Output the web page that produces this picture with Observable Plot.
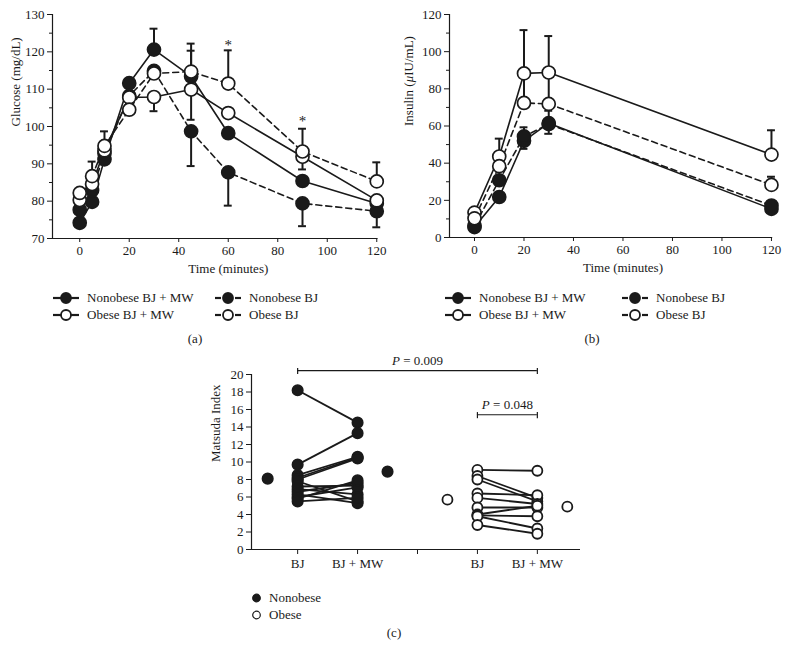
<!DOCTYPE html>
<html>
<head>
<meta charset="utf-8">
<script src="https://cdn.jsdelivr.net/npm/d3@7"></script>
<script src="https://cdn.jsdelivr.net/npm/@observablehq/plot@0.6"></script>
<style>
  body { margin: 0; background: #fff; }
  #root { position: relative; width: 788px; height: 664px; overflow: hidden;
          font-family: "Liberation Serif", "DejaVu Serif", serif; color: #1a1a1a; background: #fff; }
  #root svg { position: absolute; overflow: visible; }
  .lg { position: absolute; display: flex; align-items: center; font-size: 13px; white-space: nowrap; line-height: 14px; }
  .lg svg { position: static !important; margin-right: 8px; }
  .cap { position: absolute; font-size: 13px; transform: translate(-50%, -50%); }
</style>
</head>
<body>
<div id="root"></div>
<script>
// ---------------- DATA ----------------
const seriesNames = ["Nonobese BJ + MW", "Nonobese BJ", "Obese BJ + MW", "Obese BJ"];

// (a) Glucose
const timesA = [0, 5, 10, 20, 30, 45, 60, 90, 120];
const glucoseNonobeseBJMW = [74.2, 79.8, 91.2, 111.6, 120.6, 113.4, 98.2, 85.4, 79.4];
const glucoseNonobeseBJ   = [77.7, 82.9, 92.8, 108.2, 114.9, 98.7, 87.7, 79.4, 77.3];
const glucoseObeseBJMW    = [80.3, 84.6, 93.6, 107.8, 107.9, 109.9, 103.6, 91.9, 80.2];
const glucoseObeseBJ      = [82.2, 86.7, 94.8, 104.5, 114.2, 114.7, 111.5, 93.3, 85.3];
const glucoseErrSeries = [3, 3, 0, 2, 3, 0, 2, 1, 3, 1, 3, 2, 1, 3, 1];
const glucoseErrTime   = [5, 10, 30, 30, 45, 45, 45, 45, 60, 60, 90, 90, 90, 120, 120];
const glucoseErrEnd    = [90.6, 98.7, 126.2, 104.1, 122.2, 120.3, 101.8, 89.4, 120.4, 78.8, 99.4, 88.5, 73.3, 90.4, 73.0];
const glucoseStarTime  = [60, 90];
const glucoseStarValue = [121.7, 101.3];
const glucoseTicks = [70, 80, 90, 100, 110, 120, 130];
const glucoseMinor = [75, 85, 95, 105, 115, 125];

// (b) Insulin
const timesB = [0, 10, 20, 30, 120];
const insulinNonobeseBJMW = [5.6, 21.8, 52.0, 61.5, 15.4];
const insulinNonobeseBJ   = [6.3, 30.8, 54.4, 61.0, 17.2];
const insulinObeseBJMW    = [13.4, 43.6, 88.3, 88.8, 44.6];
const insulinObeseBJ      = [10.3, 38.4, 72.4, 71.9, 28.3];
const insulinErrSeries = [2, 2, 2, 2, 3, 3, 3, 1, 0, 1, 0];
const insulinErrTime   = [10, 20, 30, 120, 20, 30, 120, 20, 20, 30, 30];
const insulinErrEnd    = [53.2, 111.6, 108.4, 57.7, 86.7, 86.5, 32.7, 59.3, 47.7, 68.2, 55.8];
const insulinTicks = [0, 20, 40, 60, 80, 100, 120];
const insulinMinor = [10, 30, 50, 70, 90, 110];
const timeTicks = [0, 20, 40, 60, 80, 100, 120];

// (c) Matsuda index
const matsudaGroups = ["Nonobese", "Obese"];
const nonobeseBJ   = [18.2, 9.7, 8.5, 8.2, 8.0, 7.8, 7.2, 6.9, 6.6, 6.3, 6.0, 5.8, 5.5];
const nonobeseBJMW = [14.5, 13.3, 10.6, 10.5, 10.4, 5.5, 7.3, 6.3, 7.6, 5.3, 7.1, 7.9, 5.9];
const obeseBJ   = [9.1, 8.4, 8.0, 6.4, 5.9, 4.8, 4.0, 3.9, 3.8, 2.8];
const obeseBJMW = [9.0, 5.9, 5.5, 6.2, 5.2, 4.8, 5.0, 3.8, 2.4, 1.8];
const meanNonobese = [8.1, 8.9];   // BJ, BJ + MW
const meanObese    = [5.7, 4.9];   // BJ, BJ + MW
const matsudaTickLabels = ["BJ", "BJ + MW", "", "BJ", "BJ + MW"];
const matsudaTicks = [0, 2, 4, 6, 8, 10, 12, 14, 16, 18, 20];
const pLabels = ["P = 0.009", "P = 0.048"];
const pFrom = ["Nonobese BJ", "Obese BJ"];
const pTo   = ["Obese BJ + MW", "Obese BJ + MW"];
const pLevel = [20.45, 15.4];

// ---------------- STYLE / LAYOUT ----------------
const ink = "#1a1a1a";
const font = "Liberation Serif, DejaVu Serif, serif";
const seriesStyle = [
  {fill: ink, dash: undefined},
  {fill: ink, dash: "6,4"},
  {fill: "#fff", dash: undefined},
  {fill: "#fff", dash: "6,4"}
];
const root = document.getElementById("root");

function italicize(svg, pattern) {
  d3.select(svg).selectAll("text").each(function() {
    const t = this.textContent;
    const i = t.indexOf(pattern);
    if (i < 0 || this.childElementCount) return;
    const sel = d3.select(this);
    this.textContent = "";
    if (i > 0) sel.append("tspan").text(t.slice(0, i));
    sel.append("tspan").attr("font-style", "italic").text(pattern);
    sel.append("tspan").text(t.slice(i + pattern.length));
  });
}

function timeCourse(o) {
  const rows = o.values.map((vals, s) => vals.map((v, i) => ({s, t: o.times[i], v})));
  const errs = o.errSeries.map((s, i) => ({
    s, t: o.errTime[i], e: o.errEnd[i],
    v: o.values[s][o.times.indexOf(o.errTime[i])]
  }));
  const capHalf = 1.6;
  const svg = Plot.plot({
    width: o.width, height: o.height,
    marginLeft: o.margin[3], marginRight: o.margin[1], marginTop: o.margin[0], marginBottom: o.margin[2],
    style: {fontFamily: font, color: ink, background: "transparent", overflow: "visible"},
    x: {domain: o.xDomain},
    y: {domain: o.yDomain},
    marks: [
      Plot.ruleY([o.yDomain[0]], {stroke: ink, strokeWidth: 1.2}),
      Plot.ruleX([o.xDomain[0]], {stroke: ink, strokeWidth: 1.2}),
      Plot.axisY({ticks: o.yMajor, tickSize: 5, tickPadding: 3, fontSize: 13, label: null}),
      Plot.axisY({ticks: o.yMinor, tickSize: 3, tickFormat: () => "", label: null}),
      Plot.axisX({ticks: timeTicks, tickSize: 4, tickPadding: 3, fontSize: 13, label: null}),
      Plot.ruleX(errs, {x: "t", y1: "v", y2: "e", stroke: ink, strokeWidth: 2}),
      Plot.ruleY(errs, {y: "e", x1: d => d.t - capHalf, x2: d => d.t + capHalf, stroke: ink, strokeWidth: 2}),
      ...rows.map((r, s) => Plot.line(r, {x: "t", y: "v", stroke: ink, strokeWidth: 1.6, strokeDasharray: seriesStyle[s].dash})),
      ...rows.map((r, s) => Plot.dot(r, {x: "t", y: "v", r: 6.5, fill: seriesStyle[s].fill, stroke: ink, strokeWidth: 1.7})),
      Plot.text(o.stars, {x: "t", y: "v", text: () => "*", fontSize: 15, fill: ink}),
      Plot.text([o.ylabel], {frameAnchor: "left", rotate: -90, dx: o.ylabelDx, fontSize: 13, fill: ink}),
      Plot.text(["Time (minutes)"], {x: (o.times[0] + o.times[o.times.length - 1]) / 2, frameAnchor: "bottom", dy: 34, fontSize: 13, fill: ink})
    ]
  });
  svg.style.left = o.left + "px";
  svg.style.top = o.top + "px";
  root.appendChild(svg);
  return svg;
}

function legend(lefts, rowYs) {
  seriesNames.forEach((name, s) => {
    const col = s % 2, row = Math.floor(s / 2);
    const div = document.createElement("div");
    div.className = "lg";
    div.style.left = lefts[col] + "px";
    div.style.top = (rowYs[row] - 7) + "px";
    const sv = d3.create("svg").attr("width", 26).attr("height", 14);
    if (seriesStyle[s].dash) {
      sv.append("line").attr("x1", 0).attr("x2", 6).attr("y1", 7).attr("y2", 7).attr("stroke", ink).attr("stroke-width", 2.2);
      sv.append("line").attr("x1", 20).attr("x2", 26).attr("y1", 7).attr("y2", 7).attr("stroke", ink).attr("stroke-width", 2.2);
    } else {
      sv.append("line").attr("x1", 0).attr("x2", 26).attr("y1", 7).attr("y2", 7).attr("stroke", ink).attr("stroke-width", 2.2);
    }
    sv.append("circle").attr("cx", 13).attr("cy", 7).attr("r", 5).attr("fill", seriesStyle[s].fill).attr("stroke", ink).attr("stroke-width", 1.8);
    div.appendChild(sv.node());
    div.appendChild(document.createTextNode(name));
    root.appendChild(div);
  });
}

function caption(text, x, y) {
  const d = document.createElement("div");
  d.className = "cap";
  d.style.left = x + "px";
  d.style.top = y + "px";
  d.textContent = text;
  root.appendChild(d);
}

// ---------------- PANEL (a) ----------------
timeCourse({
  left: 0, top: 0, width: 390, height: 285, margin: [14, 12.5, 47, 52],
  times: timesA,
  values: [glucoseNonobeseBJMW, glucoseNonobeseBJ, glucoseObeseBJMW, glucoseObeseBJ],
  errSeries: glucoseErrSeries, errTime: glucoseErrTime, errEnd: glucoseErrEnd,
  stars: glucoseStarTime.map((t, i) => ({t, v: glucoseStarValue[i]})),
  xDomain: [-11, 120.5], yDomain: [70, 130], yMajor: glucoseTicks, yMinor: glucoseMinor,
  ylabel: "Glucose (mg/dL)", ylabelDx: -37
});
legend([53, 215], [298, 315]);
caption("(a)", 195, 339);

// ---------------- PANEL (b) ----------------
const svgB = timeCourse({
  left: 390, top: 0, width: 398, height: 285, margin: [14, 15.8, 48, 59],
  times: timesB,
  values: [insulinNonobeseBJMW, insulinNonobeseBJ, insulinObeseBJMW, insulinObeseBJ],
  errSeries: insulinErrSeries, errTime: insulinErrTime, errEnd: insulinErrEnd,
  stars: [],
  xDomain: [-10.1, 120.5], yDomain: [0, 120], yMajor: insulinTicks, yMinor: insulinMinor,
  ylabel: "Insulin (\u03BCIU/mL)", ylabelDx: -41
});
italicize(svgB, "\u03BC");
legend([445, 622], [298, 315]);
caption("(b)", 592, 339);

// ---------------- PANEL (c) ----------------
const slot = {
  "Nonobese BJ": 1, "Nonobese BJ + MW": 2, "Nonobese mean BJ": 0.5, "Nonobese mean BJ + MW": 2.5,
  "Obese BJ": 4, "Obese BJ + MW": 5, "Obese mean BJ": 3.5, "Obese mean BJ + MW": 5.5
};
const groupData = [
  {g: "Nonobese", bj: nonobeseBJ, bjmw: nonobeseBJMW, mean: meanNonobese},
  {g: "Obese", bj: obeseBJ, bjmw: obeseBJMW, mean: meanObese}
];
const pairs = [], pts = [];
groupData.forEach(G => {
  G.bj.forEach((v, i) => {
    const p = {g: G.g, x1: slot[G.g + " BJ"], x2: slot[G.g + " BJ + MW"], y1: v, y2: G.bjmw[i]};
    pairs.push(p);
    pts.push({g: G.g, x: p.x1, y: p.y1}, {g: G.g, x: p.x2, y: p.y2});
  });
  pts.push({g: G.g, x: slot[G.g + " mean BJ"], y: G.mean[0]}, {g: G.g, x: slot[G.g + " mean BJ + MW"], y: G.mean[1]});
});
const brackets = pLabels.map((label, i) => ({label, x1: slot[pFrom[i]], x2: slot[pTo[i]], y: pLevel[i]}));
const bracketEnds = brackets.flatMap(b => [{x: b.x1, y: b.y}, {x: b.x2, y: b.y}]);
const xDomC = [0.23, 5.72];

const svgC = Plot.plot({
  width: 400, height: 235, marginLeft: 51, marginRight: 20, marginTop: 29, marginBottom: 31,
  style: {fontFamily: font, color: ink, background: "transparent", overflow: "visible"},
  x: {domain: xDomC},
  y: {domain: [0, 20]},
  marks: [
    Plot.ruleY([0], {stroke: ink, strokeWidth: 1.2}),
    Plot.ruleX([xDomC[0]], {stroke: ink, strokeWidth: 1.2}),
    Plot.axisY({ticks: matsudaTicks, tickSize: 5, tickPadding: 3, fontSize: 13, label: null}),
    Plot.axisX({ticks: [1, 2, 3, 4, 5], tickFormat: d => matsudaTickLabels[d - 1], tickSize: 5, tickPadding: 4, fontSize: 13, label: null}),
    Plot.link(pairs, {x1: "x1", y1: "y1", x2: "x2", y2: "y2", stroke: ink, strokeWidth: 1.8}),
    Plot.dot(pts.filter(d => d.g === matsudaGroups[0]), {x: "x", y: "y", r: 5.3, fill: ink, stroke: ink}),
    Plot.dot(pts.filter(d => d.g === matsudaGroups[1]), {x: "x", y: "y", r: 5, fill: "#fff", stroke: ink, strokeWidth: 1.8}),
    Plot.ruleY(brackets, {y: "y", x1: "x1", x2: "x2", stroke: ink, strokeWidth: 1.2}),
    Plot.ruleX(bracketEnds, {x: "x", y1: d => d.y - 0.45, y2: d => d.y + 0.25, stroke: ink, strokeWidth: 1.2}),
    Plot.text(brackets, {x: d => (d.x1 + d.x2) / 2, y: "y", text: "label", dy: -10, fontSize: 13, fill: ink}),
    Plot.text(["Matsuda Index"], {frameAnchor: "left", rotate: -90, dx: -36, fontSize: 13, fill: ink})
  ]
});
svgC.style.left = "200px";
svgC.style.top = "345px";
root.appendChild(svgC);
italicize(svgC, "P");

// legend (c)
matsudaGroups.forEach((g, i) => {
  const div = document.createElement("div");
  div.className = "lg";
  div.style.left = "251px";
  div.style.top = (598 + i * 17 - 7) + "px";
  const sv = d3.create("svg").attr("width", 11).attr("height", 14);
  sv.append("circle").attr("cx", 5.5).attr("cy", 7).attr("r", 3.8)
    .attr("fill", i === 0 ? ink : "#fff").attr("stroke", ink).attr("stroke-width", 1.2);
  div.appendChild(sv.node());
  div.lastChild.style.marginRight = "7px";
  div.appendChild(document.createTextNode(g));
  root.appendChild(div);
});
caption("(c)", 394, 633);
</script>
</body>
</html>
